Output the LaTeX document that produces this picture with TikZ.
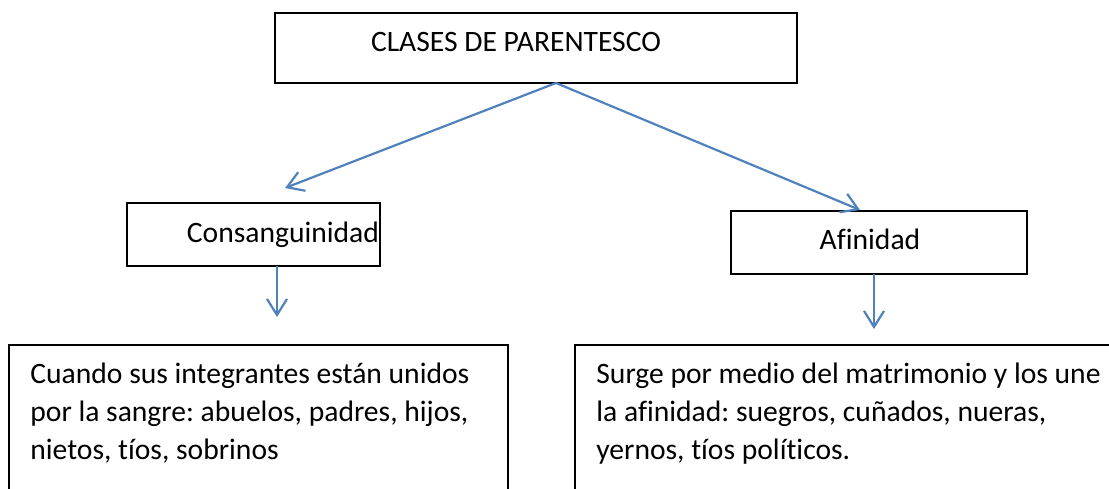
\documentclass[tikz,border=0pt]{standalone}
\usepackage{fontspec}
\setmainfont{Carlito}[Ligatures=NoCommon]
\usetikzlibrary{arrows.meta}
\definecolor{wordblue}{HTML}{4F81BD}
\frenchspacing
\tikzset{
  box/.style={draw=black, line width=0.75pt, inner sep=0pt},
  txt/.style={inner sep=0pt, font=\fontsize{14.8pt}{19pt}\selectfont},
  conn/.style={draw=wordblue, line width=1.1pt, -{Straight Barb[length=8pt,width=10pt,line width=1.1pt]}}
}
\begin{document}
\begin{tikzpicture}[x=0.5pt,y=-0.5pt]
\useasboundingbox (0,0) rectangle (1109,488);
\clip (0,0) rectangle (1109,488);
% boxes
\node[box, minimum width=261pt, minimum height=35pt] (top) at (536,48) {};
\node[box, minimum width=126.5pt, minimum height=31.5pt] (cons) at (253.5,234.5) {};
\node[box, minimum width=148pt, minimum height=31.5pt] (afin) at (879,242.5) {};
\node[box, minimum width=249.5pt, minimum height=77.5pt] (bl) at (258.5,422.5) {};
\node[box, minimum width=272.5pt, minimum height=77.5pt] (br) at (847.5,422.5) {};
% texts
\node[txt, anchor=base] (ttop) at (516,51) {CLASES DE PARENTESCO};
\node[txt, anchor=base] (tcons) at (283,242) {Consanguinidad};
\node[txt, anchor=base] (tafin) at (870,249) {Afinidad};
\node[txt, anchor=base west] (bl1) at (30,383) {Cuando sus integrantes están unidos};
\node[txt, anchor=base west] (bl2) at (30,421) {por la sangre: abuelos, padres, hijos,};
\node[txt, anchor=base west] (bl3) at (30,459) {nietos, tíos, sobrinos};
\node[txt, anchor=base west] (br1) at (596,383) {Surge por medio del matrimonio y los une};
\node[txt, anchor=base west] (br2) at (596,421) {la afinidad: suegros, cuñados, nueras,};
\node[txt, anchor=base west] (br3) at (596,459) {yernos, tíos políticos.};
% connector points
\coordinate (src) at (556,83);
\coordinate (tipL) at (285,188);
\coordinate (tipR) at (860,210);
\coordinate (consS) at (277,266);
\coordinate (tipCL) at (277,317);
\coordinate (afinS) at (874,274);
\coordinate (tipAR) at (874,329);
\draw[conn] (src) -- (tipL);
\draw[conn] (src) -- (tipR);
\draw[conn] (consS) -- (tipCL);
\draw[conn] (afinS) -- (tipAR);
\end{tikzpicture}
\end{document}
